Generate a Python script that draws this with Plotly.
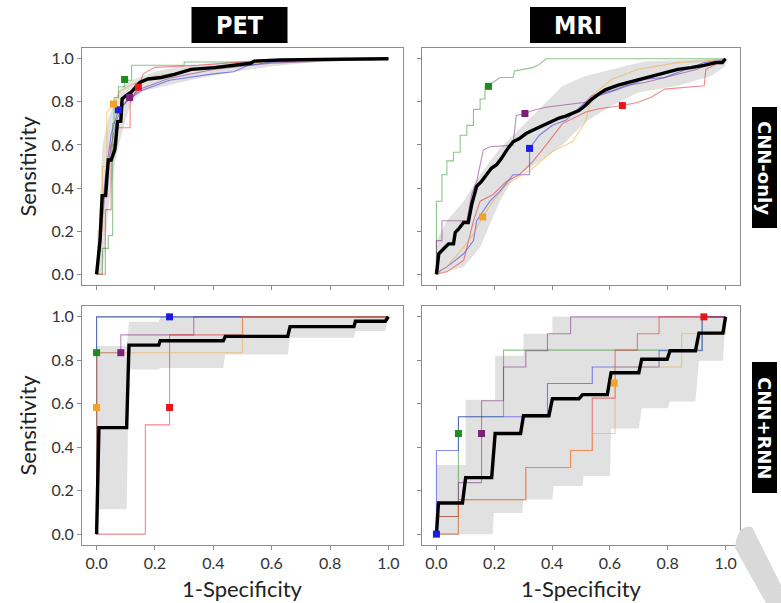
import plotly.graph_objects as go

# ---------------------------------------------------------------- data
TICKS = [0.0, 0.2, 0.4, 0.6, 0.8, 1.0]
TICK_TEXT = ["0.0", "0.2", "0.4", "0.6", "0.8", "1.0"]
COLUMNS = ["PET", "MRI"]
ROWS = ["CNN-only", "CNN+RNN"]
FOLD_NAMES = ["green", "purple", "blue", "red", "orange"]

# ---- PET, CNN-only
PET_CNN_MEAN = [(0, 0), (0.012, 0.16), (0.019, 0.365), (0.031, 0.365), (0.04, 0.53), (0.05, 0.53),
                (0.0625, 0.578), (0.072, 0.708), (0.083, 0.71), (0.0875, 0.814), (0.102, 0.83),
                (0.119, 0.845), (0.135, 0.87), (0.148, 0.89), (0.176, 0.906), (0.222, 0.913),
                (0.267, 0.928), (0.324, 0.951), (0.403, 0.959), (0.472, 0.970), (0.528, 0.979),
                (0.54, 0.989), (0.63, 0.994), (0.767, 0.997), (0.9, 1.0), (1.0, 1.0)]
PET_CNN_BAND_UP = [(0, 0), (0.01, 0.3), (0.02, 0.6), (0.04, 0.72), (0.06, 0.8), (0.08, 0.86),
                   (0.12, 0.9), (0.2, 0.94), (0.3, 0.97), (0.45, 0.985), (0.6, 1.0), (1, 1)]
PET_CNN_BAND_LO = [(0.02, 0), (0.04, 0.3), (0.06, 0.5), (0.08, 0.62), (0.1, 0.72), (0.12, 0.8),
                   (0.16, 0.85), (0.25, 0.88), (0.35, 0.91), (0.5, 0.945), (0.6, 0.965),
                   (0.75, 0.985), (1, 1)]
PET_CNN_GREEN = [(0, 0), (0.02, 0), (0.02, 0.12), (0.04, 0.12), (0.04, 0.18), (0.055, 0.18),
                 (0.055, 0.7), (0.06, 0.7), (0.06, 0.82), (0.075, 0.82), (0.075, 0.87),
                 (0.096, 0.87), (0.096, 0.9), (0.12, 0.9), (0.12, 0.97), (0.3, 0.97),
                 (0.3, 0.985), (0.55, 0.985), (0.55, 0.995), (0.95, 0.995), (1, 1)]
PET_CNN_PURPLE = [(0, 0), (0.01, 0.1), (0.03, 0.4), (0.05, 0.6), (0.07, 0.72), (0.09, 0.78),
                  (0.113, 0.82), (0.15, 0.86), (0.25, 0.91), (0.4, 0.95), (0.6, 0.98), (1, 1)]
PET_CNN_BLUE = [(0, 0), (0.01, 0.15), (0.03, 0.45), (0.05, 0.65), (0.075, 0.763), (0.1, 0.8),
                (0.15, 0.85), (0.25, 0.9), (0.4, 0.93), (0.47, 0.94), (0.52, 0.97),
                (0.6, 0.985), (0.8, 0.995), (1, 1)]
PET_CNN_RED = [(0, 0), (0.03, 0), (0.03, 0.3), (0.05, 0.3), (0.05, 0.6), (0.07, 0.6),
               (0.07, 0.68), (0.115, 0.68), (0.115, 0.8), (0.143, 0.868), (0.16, 0.93),
               (0.2, 0.96), (0.35, 0.97), (0.5, 0.985), (0.7, 0.995), (1, 1)]
PET_CNN_ORANGE = [(0, 0), (0.005, 0), (0.005, 0.2), (0.02, 0.2), (0.02, 0.5), (0.035, 0.5),
                  (0.035, 0.75), (0.058, 0.79), (0.08, 0.85), (0.12, 0.88), (0.2, 0.92),
                  (0.3, 0.94), (0.4, 0.96), (0.5, 0.975), (0.6, 0.99), (0.8, 1.0), (1, 1)]
PET_CNN_POINTS = [(0.096, 0.904), (0.113, 0.82), (0.075, 0.763), (0.143, 0.868), (0.058, 0.79)]

# ---- MRI, CNN-only
MRI_CNN_MEAN = [(0, 0), (0.008, 0.095), (0.025, 0.118), (0.042, 0.141), (0.059, 0.141),
                (0.065, 0.194), (0.076, 0.209), (0.094, 0.24), (0.11, 0.24), (0.122, 0.324),
                (0.139, 0.408), (0.156, 0.431), (0.173, 0.462), (0.19, 0.492), (0.208, 0.508),
                (0.225, 0.538), (0.247, 0.584), (0.265, 0.615), (0.287, 0.63), (0.31, 0.653),
                (0.333, 0.668), (0.356, 0.683), (0.379, 0.699), (0.401, 0.714), (0.424, 0.725),
                (0.447, 0.734), (0.47, 0.745), (0.493, 0.76), (0.515, 0.783), (0.538, 0.813),
                (0.561, 0.836), (0.584, 0.856), (0.607, 0.867), (0.629, 0.878), (0.664, 0.89),
                (0.698, 0.902), (0.743, 0.92), (0.789, 0.936), (0.835, 0.951), (0.88, 0.959),
                (0.926, 0.969), (0.966, 0.982), (0.989, 0.982), (1.0, 1.0)]
MRI_CNN_BAND_UP = [(0, 0.156), (0.036, 0.248), (0.094, 0.339), (0.151, 0.462), (0.219, 0.584),
                   (0.265, 0.645), (0.379, 0.798), (0.436, 0.874), (0.515, 0.92),
                   (0.607, 0.951), (0.721, 0.989), (1, 1.0)]
MRI_CNN_BAND_LO = [(0, 0), (0.094, 0.034), (0.151, 0.125), (0.219, 0.339), (0.265, 0.446),
                   (0.356, 0.523), (0.436, 0.6), (0.515, 0.706), (0.607, 0.783),
                   (0.698, 0.844), (0.835, 0.875), (0.949, 0.92), (1, 0.966)]
MRI_CNN_GREEN = [(0, 0), (0, 0.339), (0.019, 0.339), (0.019, 0.462), (0.036, 0.462),
                 (0.036, 0.526), (0.059, 0.526), (0.059, 0.566), (0.082, 0.566), (0.082, 0.645),
                 (0.105, 0.645), (0.105, 0.691), (0.128, 0.691), (0.128, 0.765), (0.151, 0.765),
                 (0.151, 0.813), (0.168, 0.813), (0.168, 0.872), (0.196, 0.89), (0.219, 0.913),
                 (0.265, 0.913), (0.27, 0.943), (0.333, 0.959), (0.356, 0.974), (0.379, 1.0),
                 (1.0, 1.0)]
MRI_CNN_PURPLE = [(0, 0), (0, 0.156), (0.019, 0.156), (0.019, 0.248), (0.105, 0.248),
                  (0.122, 0.37), (0.139, 0.431), (0.151, 0.508), (0.162, 0.576), (0.185, 0.592),
                  (0.265, 0.599), (0.276, 0.737), (0.306, 0.746), (0.333, 0.76), (0.379, 0.775),
                  (0.515, 0.798), (0.538, 0.829), (0.607, 0.852), (0.652, 0.875), (0.721, 0.89),
                  (0.903, 0.951), (0.949, 0.982), (1.0, 0.997)]
MRI_CNN_BLUE = [(0, 0), (0.014, 0.018), (0.036, 0.034), (0.094, 0.095), (0.128, 0.156),
                (0.139, 0.248), (0.185, 0.339), (0.219, 0.385), (0.265, 0.462), (0.322, 0.462),
                (0.322, 0.584), (0.356, 0.645), (0.401, 0.691), (0.447, 0.714), (0.515, 0.798),
                (0.561, 0.829), (0.629, 0.859), (0.721, 0.905), (0.789, 0.913), (0.926, 0.982),
                (1.0, 0.997)]
MRI_CNN_RED = [(0, 0), (0.036, 0.011), (0.094, 0.064), (0.128, 0.248), (0.151, 0.339),
               (0.196, 0.37), (0.242, 0.431), (0.287, 0.462), (0.333, 0.523), (0.379, 0.599),
               (0.436, 0.699), (0.515, 0.752), (0.561, 0.768), (0.643, 0.783), (0.698, 0.798),
               (0.743, 0.821), (0.789, 0.859), (0.926, 0.875), (0.932, 0.951), (1.0, 0.997)]
MRI_CNN_ORANGE = [(0, 0), (0.036, 0.034), (0.094, 0.125), (0.128, 0.187), (0.16, 0.266),
                  (0.196, 0.339), (0.242, 0.416), (0.333, 0.492), (0.401, 0.569),
                  (0.47, 0.615), (0.515, 0.706), (0.538, 0.829), (0.607, 0.905),
                  (0.698, 0.951), (0.835, 0.982), (1.0, 0.997)]
MRI_CNN_POINTS = [(0.18, 0.872), (0.306, 0.746), (0.322, 0.584), (0.643, 0.783), (0.16, 0.266)]

# ---- PET, CNN+RNN
PET_RNN_MEAN = [(0, 0), (0.008, 0.49), (0.103, 0.49), (0.111, 0.87), (0.213, 0.87),
                (0.218, 0.89), (0.434, 0.89), (0.441, 0.91), (0.655, 0.91), (0.663, 0.955),
                (0.882, 0.955), (0.887, 0.98), (0.989, 0.98), (1.0, 1.0)]
PET_RNN_BAND_UP = [(0, 0.866), (0.103, 0.866), (0.111, 0.978), (0.213, 0.978), (0.218, 1.0),
                   (1, 1.0)]
PET_RNN_BAND_LO = [(0, 0.114), (0.103, 0.114), (0.111, 0.758), (0.213, 0.758), (0.218, 0.765),
                   (0.434, 0.765), (0.441, 0.827), (0.655, 0.827), (0.663, 0.904),
                   (0.882, 0.904), (0.887, 0.935), (0.989, 0.935), (1, 1)]
PET_RNN_GREEN = [(0, 0), (0, 0.835), (0, 1.0), (1.0, 1.0)]
PET_RNN_PURPLE = [(0, 0), (0, 0.835), (0.083, 0.835), (0.083, 0.917), (0.333, 0.917),
                  (0.333, 1.0), (1.0, 1.0)]
PET_RNN_BLUE = [(0, 0), (0, 1.0), (1.0, 1.0)]
PET_RNN_RED = [(0, 0), (0.167, 0), (0.167, 0.503), (0.25, 0.503), (0.25, 0.917), (0.5, 0.917),
               (0.5, 1.0), (1.0, 1.0)]
PET_RNN_ORANGE = [(0, 0), (0, 0.835), (0.5, 0.835), (0.5, 1.0), (1.0, 1.0)]
PET_RNN_POINTS = [(0, 0.835), (0.083, 0.835), (0.25, 1.0), (0.25, 0.583), (0, 0.583)]

# ---- MRI, CNN+RNN
MRI_RNN_MEAN = [(0, 0), (0.007, 0.143), (0.09, 0.143), (0.101, 0.26), (0.191, 0.26),
                (0.203, 0.463), (0.291, 0.463), (0.301, 0.545), (0.389, 0.545), (0.401, 0.623),
                (0.493, 0.623), (0.505, 0.642), (0.591, 0.642), (0.604, 0.743), (0.7, 0.743),
                (0.71, 0.805), (0.798, 0.805), (0.808, 0.844), (0.896, 0.844), (0.908, 0.925),
                (0.991, 0.925), (1.0, 1.0)]
MRI_RNN_BAND_UP = [(0, 0.318), (0.101, 0.318), (0.101, 0.618), (0.203, 0.618), (0.203, 0.821),
                   (0.301, 0.821), (0.301, 0.922), (0.401, 0.922), (0.401, 1.0), (1, 1.0)]
MRI_RNN_BAND_LO = [(0, 0), (0.194, 0), (0.199, 0.097), (0.297, 0.097), (0.301, 0.159),
                   (0.401, 0.159), (0.405, 0.221), (0.505, 0.221), (0.509, 0.268),
                   (0.6, 0.268), (0.604, 0.486), (0.7, 0.486), (0.71, 0.579), (0.8, 0.579),
                   (0.808, 0.611), (0.896, 0.611), (0.908, 0.798), (0.991, 0.798), (1, 1)]
MRI_RNN_GREEN = [(0, 0), (0, 0.081), (0.076, 0.081), (0.076, 0.54), (0.232, 0.54),
                 (0.232, 0.847), (0.919, 0.847), (0.919, 1.0), (1.0, 1.0)]
MRI_RNN_PURPLE = [(0, 0), (0.076, 0), (0.076, 0.237), (0.156, 0.237), (0.156, 0.614),
                  (0.232, 0.614), (0.232, 0.769), (0.309, 0.769), (0.309, 0.844),
                  (0.384, 0.844), (0.384, 0.922), (0.464, 0.922), (0.464, 1.0), (1.0, 1.0)]
MRI_RNN_BLUE = [(0, 0), (0, 0.385), (0.076, 0.385), (0.076, 0.54), (0.384, 0.54),
                (0.384, 0.693), (0.539, 0.693), (0.539, 0.769), (0.77, 0.769), (0.77, 0.844),
                (0.919, 0.844), (0.919, 1.0), (1.0, 1.0)]
MRI_RNN_RED = [(0, 0), (0, 0.081), (0.076, 0.081), (0.076, 0.159), (0.309, 0.159),
               (0.309, 0.307), (0.464, 0.307), (0.464, 0.385), (0.539, 0.385), (0.539, 0.626),
               (0.618, 0.626), (0.618, 0.847), (0.695, 0.847), (0.695, 0.922), (0.77, 0.922),
               (0.77, 1.0), (1.0, 1.0)]
MRI_RNN_ORANGE = [(0, 0), (0.076, 0), (0.076, 0.159), (0.309, 0.159), (0.309, 0.307),
                  (0.464, 0.307), (0.464, 0.385), (0.539, 0.385), (0.539, 0.463),
                  (0.618, 0.463), (0.618, 0.769), (0.848, 0.769), (0.848, 0.922),
                  (1.0, 0.922), (1.0, 1.0)]
MRI_RNN_POINTS = [(0.076, 0.463), (0.156, 0.463), (0, 0), (0.925, 1.0), (0.615, 0.695)]

# ---------------------------------------------------------------- styling
W, H = 781, 603
FOLD_COLORS = {"green": "#1e8c1e", "purple": "#7a1f7a", "blue": "#1c1ce6",
               "red": "#e8151b", "orange": "#f2a22a"}
BAND_FILL = "rgba(175,175,175,0.38)"
FRAME = "#8c8c8c"
TEXT = "#333333"
LABEL_FONT = "Lato, Carlito, 'Open Sans', sans-serif"

COL_PX = [(82, 403), (422, 740)]     # panel left/right edges, px
ROW_PX = [(48, 285), (306, 545)]     # panel top/bottom edges, px

PANELS = [
    (0, 0, PET_CNN_MEAN, PET_CNN_BAND_UP, PET_CNN_BAND_LO,
     [PET_CNN_GREEN, PET_CNN_PURPLE, PET_CNN_BLUE, PET_CNN_RED, PET_CNN_ORANGE], PET_CNN_POINTS),
    (0, 1, MRI_CNN_MEAN, MRI_CNN_BAND_UP, MRI_CNN_BAND_LO,
     [MRI_CNN_GREEN, MRI_CNN_PURPLE, MRI_CNN_BLUE, MRI_CNN_RED, MRI_CNN_ORANGE], MRI_CNN_POINTS),
    (1, 0, PET_RNN_MEAN, PET_RNN_BAND_UP, PET_RNN_BAND_LO,
     [PET_RNN_GREEN, PET_RNN_PURPLE, PET_RNN_BLUE, PET_RNN_RED, PET_RNN_ORANGE], PET_RNN_POINTS),
    (1, 1, MRI_RNN_MEAN, MRI_RNN_BAND_UP, MRI_RNN_BAND_LO,
     [MRI_RNN_GREEN, MRI_RNN_PURPLE, MRI_RNN_BLUE, MRI_RNN_RED, MRI_RNN_ORANGE], MRI_RNN_POINTS),
]


def xs(pts):
    return [p[0] for p in pts]


def ys(pts):
    return [p[1] for p in pts]


fig = go.Figure()
layout = {}

for i, (r, c, mean, up, lo, folds, points) in enumerate(PANELS):
    n = "" if i == 0 else str(i + 1)
    xa, ya = "x" + n, "y" + n

    # shaded spread around the mean curve
    band = up + lo[::-1]
    fig.add_trace(go.Scatter(x=xs(band), y=ys(band), xaxis=xa, yaxis=ya, mode="lines",
                             fill="toself", fillcolor=BAND_FILL, line=dict(width=0),
                             hoverinfo="skip", showlegend=False))
    # per-fold ROC curves
    for name, curve in zip(FOLD_NAMES, folds):
        fig.add_trace(go.Scatter(x=xs(curve), y=ys(curve), xaxis=xa, yaxis=ya, mode="lines",
                                 line=dict(color=FOLD_COLORS[name], width=1.1),
                                 opacity=0.5, showlegend=False))
    # mean ROC curve
    fig.add_trace(go.Scatter(x=xs(mean), y=ys(mean), xaxis=xa, yaxis=ya, mode="lines",
                             line=dict(color="black", width=3.4), showlegend=False))
    # operating points
    for name, pt in zip(FOLD_NAMES, points):
        fig.add_trace(go.Scatter(x=[pt[0]], y=[pt[1]], xaxis=xa, yaxis=ya, mode="markers",
                                 marker=dict(symbol="square", size=7, color=FOLD_COLORS[name]),
                                 showlegend=False))

    l, rr = COL_PX[c]
    t, b = ROW_PX[r]
    common = dict(range=[-0.05, 1.05], tickvals=TICKS, ticktext=TICK_TEXT, ticks="outside",
                  ticklen=4, tickcolor=FRAME, showline=True, linecolor=FRAME, linewidth=1,
                  mirror=True, showgrid=False, zeroline=False, fixedrange=True,
                  tickfont=dict(family=LABEL_FONT, size=16, color=TEXT))
    layout["xaxis" + n] = dict(common, domain=[l / W, rr / W], anchor=ya,
                               showticklabels=(r == 1))
    layout["yaxis" + n] = dict(common, domain=[1 - b / H, 1 - t / H], anchor=xa,
                               showticklabels=(c == 0))

shapes, annotations = [], []


def note(x_px, y_px, text, font, angle=0):
    annotations.append(dict(x=x_px / W, y=1 - y_px / H, xref="paper", yref="paper",
                            xanchor="center", yanchor="middle", text=text,
                            textangle=angle, showarrow=False, font=font))


# column headers
for c, label in enumerate(COLUMNS):
    cx = (COL_PX[c][0] + COL_PX[c][1]) / 2 - 3
    shapes.append(dict(type="rect", xref="paper", yref="paper", x0=(cx - 48) / W,
                       x1=(cx + 48) / W, y0=1 - 43 / H, y1=1 - 7 / H,
                       fillcolor="black", line=dict(width=0)))
    note(cx, 25, label, dict(family="'Liberation Sans Narrow', 'DejaVu Sans Condensed', sans-serif",
                             size=25, color="white", weight="bold"))

# row headers
ROW_BOX = [(107, 228), (362, 493)]
for r, label in enumerate(ROWS):
    y0, y1 = ROW_BOX[r]
    shapes.append(dict(type="rect", xref="paper", yref="paper", x0=752 / W, x1=777 / W,
                       y0=1 - y1 / H, y1=1 - y0 / H, fillcolor="black", line=dict(width=0)))
    note(764.5, (y0 + y1) / 2, label,
         dict(family="'DejaVu Sans', sans-serif", size=18, color="white", weight="bold"),
         angle=90)

# axis titles
for r in range(2):
    cy = (ROW_PX[r][0] + ROW_PX[r][1]) / 2
    note(27, cy, "Sensitivity", dict(family=LABEL_FONT, size=22, color="#222222"), angle=-90)
for c in range(2):
    cx = (COL_PX[c][0] + COL_PX[c][1]) / 2
    note(cx, 588, "1-Specificity", dict(family=LABEL_FONT, size=22, color="#222222"))

# corner mark
shapes.append(dict(type="path", xref="paper", yref="paper", layer="above",
                   path="M {} {} Q {} {} {} {} L {} {} L {} {} L {} {} Z".format(
                       735 / W, 1 - 548 / H, 737 / W, 1 - 524 / H, 752 / W, 1 - 527 / H,
                       781 / W, 1 - 585 / H, 781 / W, 1 - 603 / H, 766 / W, 1 - 603 / H),
                   fillcolor="#d9d9d9", line=dict(width=0)))

fig.update_layout(**layout)
fig.update_layout(width=W, height=H, margin=dict(l=0, r=0, t=0, b=0),
                  paper_bgcolor="white", plot_bgcolor="white",
                  shapes=shapes, annotations=annotations, showlegend=False)

fig.write_html("out.html", config={"displayModeBar": False})
